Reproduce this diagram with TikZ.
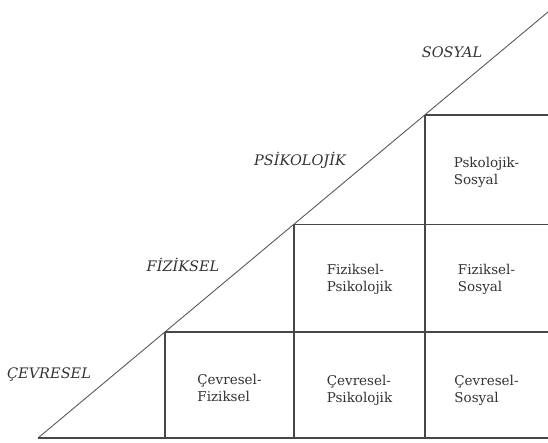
\documentclass[tikz,border=0pt]{standalone}
\usepackage{fontspec}
\setmainfont{DejaVu Serif}
\begin{document}
\begin{tikzpicture}[x=1pt,y=-1pt,
  gridline/.style={draw=black!72,line width=1.1pt},
  diagline/.style={draw=black!65,line width=0.9pt},
  axislabel/.style={font=\fontsize{14.5}{16}\selectfont\itshape,text=black!80,inner sep=0pt},
  celltext/.style={font=\fontsize{13.5}{17}\selectfont,text=black!80,align=left,inner sep=0pt}]
\useasboundingbox (0,0) rectangle (548,442);
% key points
\coordinate (o) at (38,438);
\coordinate (top) at (548,12);
\coordinate (c1) at (165,332);
\coordinate (c2) at (294,224.5);
\coordinate (c3) at (425,115);
\coordinate (b1) at (165,438);
\coordinate (b2) at (294,438);
\coordinate (b3) at (425,438);
\coordinate (br) at (548,438);
\coordinate (r1) at (548,332);
\coordinate (r2) at (548,224.5);
\coordinate (r3) at (548,115);
\coordinate (m2) at (294,332);
\coordinate (m3a) at (425,332);
\coordinate (m3b) at (425,224.5);
% lines
\draw[diagline] (o) -- (top);
\draw[gridline] (o) -- (br);
\draw[gridline] (c1) -- (r1);
\draw[gridline] (c2) -- (r2);
\draw[gridline] (c3) -- (r3);
\draw[gridline] (c1) -- (b1);
\draw[gridline] (c2) -- (b2);
\draw[gridline] (c3) -- (b3);
% axis labels
\node[axislabel] (lcev) at (49,375) {ÇEVRESEL};
\node[axislabel] (lfiz) at (183,265) {FİZİKSEL};
\node[axislabel] (lpsi) at (300,160) {PSİKOLOJİK};
\node[axislabel] (lsos) at (452,52) {SOSYAL};
% cell texts
\node[celltext] (cf) at (229.5,388) {Çevresel-\\Fiziksel};
\node[celltext] (cp) at (359.5,390) {Çevresel-\\Psikolojik};
\node[celltext] (cs) at (486.5,390) {Çevresel-\\Sosyal};
\node[celltext] (fp) at (359.5,279) {Fiziksel-\\Psikolojik};
\node[celltext] (fs) at (486.5,279) {Fiziksel-\\Sosyal};
\node[celltext] (ps) at (486.5,172) {Pskolojik-\\Sosyal};
\end{tikzpicture}
\end{document}
